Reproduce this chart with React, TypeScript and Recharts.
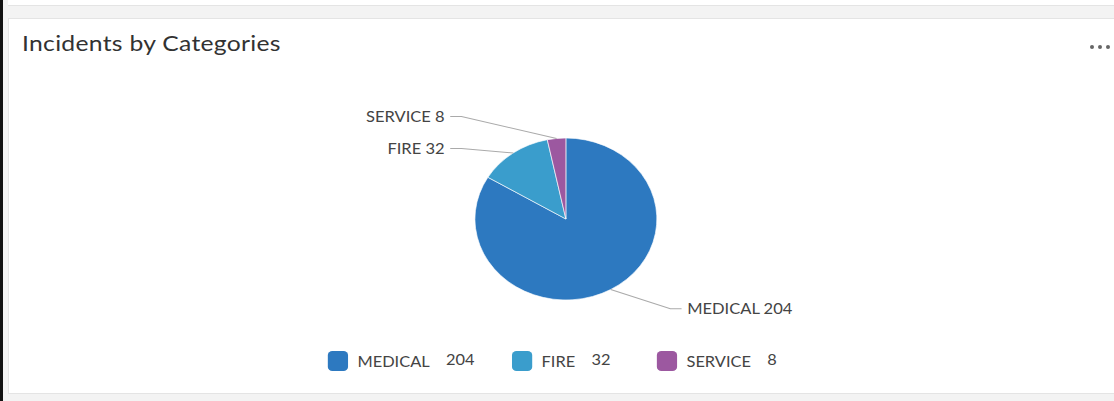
import { PieChart, Pie, Cell, Legend } from 'recharts';

const categories = ['MEDICAL', 'FIRE', 'SERVICE'];
const counts = [204, 32, 8];
const colors = ['#2d79c0', '#3a9dcc', '#9c58a0'];

const data = categories.map((name, i) => ({ name, value: counts[i], color: colors[i] }));

// the reference is slightly stretched horizontally
const STRETCH = 1.123;
const CHART_W = 600;
const CHART_H = 330;
const CX = CHART_W / 2;
const CY = 159;
const RADIUS = 81;
const START = 90;
const END = -270;

const RAD = Math.PI / 180;

// precompute label rows (offset from centre) so labels on one side don't collide
const computeLabelDy = () => {
  const total = counts.reduce((a, b) => a + b, 0);
  let acc = 0;
  const items = counts.map((v, i) => {
    const mid = START - ((acc + v / 2) / total) * 360;
    acc += v;
    const side = Math.cos(mid * RAD) >= 0 ? 1 : -1;
    return { i, side, y: -(RADIUS + 22) * Math.sin(mid * RAD) };
  });
  const out: number[] = [];
  [1, -1].forEach((side) => {
    const list = items.filter((d) => d.side === side).sort((a, b) => a.y - b.y);
    let last = -Infinity;
    list.forEach((d) => {
      const y = Math.max(d.y, last + 32);
      out[d.i] = y;
      last = y;
    });
  });
  return out;
};

const labelDy = computeLabelDy();

const renderLabel = (props: any) => {
  const { cx, cy, midAngle, outerRadius, index, name, value } = props;
  const cos = Math.cos(-midAngle * RAD);
  const sin = Math.sin(-midAngle * RAD);
  const side = cos >= 0 ? 1 : -1;
  const sx = cx + outerRadius * cos;
  const sy = cy + outerRadius * sin;
  const y = cy + labelDy[index];
  const mx = cx + side * (outerRadius + 12);
  const ex = cx + side * (outerRadius + 22);
  return (
    <g>
      <polyline
        points={`${sx},${sy} ${mx},${y} ${ex},${y}`}
        fill="none"
        stroke="#aaaaaa"
        strokeWidth={1}
      />
      <text
        x={ex + side * 5}
        y={y}
        textAnchor={side > 0 ? 'start' : 'end'}
        dominantBaseline="central"
        fontSize={14.7}
        fill="#444"
      >
        {`${name} ${value}`}
      </text>
    </g>
  );
};

const renderLegend = () => (
  <div
    style={{
      display: 'flex',
      justifyContent: 'center',
      alignItems: 'center',
      gap: 33,
      fontSize: 14.6,
      color: '#444',
    }}
  >
    {data.map((d) => (
      <div key={d.name} style={{ display: 'flex', alignItems: 'center' }}>
        <span
          style={{
            width: 18.7,
            height: 20,
            borderRadius: 4,
            background: d.color,
            display: 'inline-block',
            marginRight: 8,
          }}
        />
        <span style={{ marginRight: 14.5 }}>{d.name}</span>
        <span style={{ position: 'relative', top: -2, minWidth: 25 }}>{d.value}</span>
      </div>
    ))}
  </div>
);

export default function App() {
  return (
    <div
      style={{
        position: 'absolute',
        left: 0,
        top: 0,
        width: 1114,
        height: 401,
        background: '#f3f3f3',
        overflow: 'hidden',
        fontFamily: 'Lato, "Open Sans", sans-serif',
      }}
    >
      <div style={{ position: 'absolute', left: 0, top: 0, width: 3, height: 401, background: '#111' }} />
      <div
        style={{
          position: 'absolute',
          left: 8,
          top: -2,
          width: 1110,
          height: 7,
          background: '#fff',
          borderBottom: '1px solid #e4e4e4',
        }}
      />
      <div
        style={{
          position: 'absolute',
          left: 8,
          top: 18,
          width: 1110,
          height: 376,
          background: '#fff',
          border: '1px solid #e4e4e4',
          boxSizing: 'border-box',
        }}
      >
        <div
          style={{
            position: 'absolute',
            left: 13,
            top: 11,
            fontSize: 22,
            lineHeight: '26px',
            letterSpacing: 0.25,
            color: '#323232',
            whiteSpace: 'nowrap',
            transform: `scaleX(${STRETCH})`,
            transformOrigin: 'left top',
          }}
        >
          Incidents by Categories
        </div>
        <div style={{ position: 'absolute', left: 1081, top: 26, display: 'flex', gap: 4 }}>
          {[0, 1, 2].map((k) => (
            <span
              key={k}
              style={{ width: 4, height: 4, borderRadius: 2, background: '#666', display: 'inline-block' }}
            />
          ))}
        </div>
        <div
          style={{
            position: 'absolute',
            left: 566 - 9 - (CHART_W * STRETCH) / 2,
            top: 41,
            width: CHART_W,
            height: CHART_H,
            transform: `scaleX(${STRETCH})`,
            transformOrigin: 'left top',
          }}
        >
          <PieChart width={CHART_W} height={CHART_H} margin={{ top: 0, right: 0, bottom: 0, left: 0 }}>
            <Pie
              data={data}
              dataKey="value"
              nameKey="name"
              cx={CX}
              cy={CY}
              outerRadius={RADIUS}
              startAngle={START}
              endAngle={END}
              stroke="#ffffff"
              strokeWidth={0.6}
              label={renderLabel}
              labelLine={false}
              isAnimationActive={false}
            >
              {data.map((d) => (
                <Cell key={d.name} fill={d.color} />
              ))}
            </Pie>
            <Legend
              content={renderLegend}
              verticalAlign="bottom"
              wrapperStyle={{ top: 291, bottom: 'auto', left: -4, width: CHART_W }}
            />
          </PieChart>
        </div>
      </div>
    </div>
  );
}
